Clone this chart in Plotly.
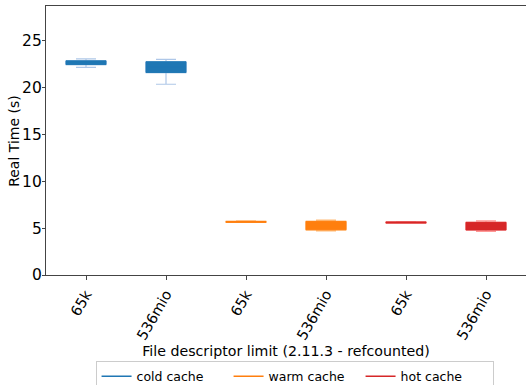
import plotly.graph_objects as go

# Box statistics (seconds) per file-descriptor limit and cache state
limits = ["65k", "536mio", "65k", "536mio", "65k", "536mio"]
series = ["cold cache", "warm cache", "hot cache"]

lower_fence = [22.15, 20.35, 5.60, 4.70, 5.52, 4.65]
q1 = [22.45, 21.60, 5.62, 4.82, 5.54, 4.80]
median = [22.68, 22.15, 5.67, 5.25, 5.60, 5.20]
q3 = [22.85, 22.75, 5.72, 5.72, 5.66, 5.62]
upper_fence = [23.05, 23.00, 5.77, 5.85, 5.70, 5.78]

fill_colors = ["#1f77b4", "#ff7f0e", "#d62728"]
edge_colors = ["#aec7e8", "#ffbb78", "#ff9896"]

y_ticks = [0, 5, 10, 15, 20, 25]

fig = go.Figure()

for i, name in enumerate(series):
    idx = [2 * i, 2 * i + 1]
    # whiskers and caps in the light shade
    fig.add_trace(go.Box(
        x=idx,
        lowerfence=[lower_fence[j] for j in idx],
        q1=[q1[j] for j in idx],
        median=[median[j] for j in idx],
        q3=[q3[j] for j in idx],
        upperfence=[upper_fence[j] for j in idx],
        width=0.5,
        whiskerwidth=0.5,
        fillcolor=edge_colors[i],
        line=dict(color=edge_colors[i], width=1.2),
        boxpoints=False,
        showlegend=False,
        hoverinfo="skip",
    ))
    # solid box body on top
    fig.add_trace(go.Box(
        x=idx,
        lowerfence=[q1[j] for j in idx],
        q1=[q1[j] for j in idx],
        median=[median[j] for j in idx],
        q3=[q3[j] for j in idx],
        upperfence=[q3[j] for j in idx],
        width=0.5,
        whiskerwidth=0,
        fillcolor=fill_colors[i],
        line=dict(color=fill_colors[i], width=1),
        boxpoints=False,
        showlegend=False,
        hoverinfo="skip",
    ))

# Line-style legend entries
for i, name in enumerate(series):
    fig.add_trace(go.Scatter(
        x=[None], y=[None], mode="lines", name=name,
        line=dict(color=fill_colors[i], width=1.5),
    ))

font = "DejaVu Sans, sans-serif"

fig.update_layout(
    width=526, height=385,
    margin=dict(l=46, r=0, t=6, b=110),
    paper_bgcolor="white", plot_bgcolor="white",
    font=dict(family=font, color="black"),
    showlegend=True,
    boxmode="overlay",
    legend=dict(
        orientation="h", xref="container", x=0.56, xanchor="center",
        yref="container", y=0.063, yanchor="top",
        bordercolor="#cccccc", borderwidth=1,
        font=dict(size=12.5, family=font),
        entrywidth=87, entrywidthmode="pixels",
        itemwidth=30,
    ),
    xaxis=dict(
        range=[-0.5, 5.5], automargin=False,
        tickmode="array", tickvals=list(range(len(limits))), ticktext=limits,
        tickangle=-60, tickfont=dict(size=14.5),
        ticks="outside", ticklen=4, tickcolor="#444",
        showline=True, linecolor="#444", linewidth=1.2, mirror=True,
        showgrid=False, zeroline=False,
        title=dict(text="File descriptor limit (2.11.3 - refcounted)",
                   font=dict(size=14.2), standoff=0),
    ),
    yaxis=dict(
        range=[0, 28.7], automargin=False,
        tickmode="array", tickvals=y_ticks,
        tickfont=dict(size=15.5),
        ticks="outside", ticklen=3, tickcolor="#444",
        ticklabelstandoff=-3,
        showline=True, linecolor="#444", linewidth=1.2, mirror=False,
        showgrid=False, zeroline=False,
    ),
    annotations=[dict(
        text="Real Time (s)", textangle=-90,
        xref="paper", yref="paper", x=-0.068, y=0.5,
        xanchor="center", yanchor="middle", showarrow=False,
        font=dict(size=14, family=font),
    )],
)

fig.write_html("out.html")
